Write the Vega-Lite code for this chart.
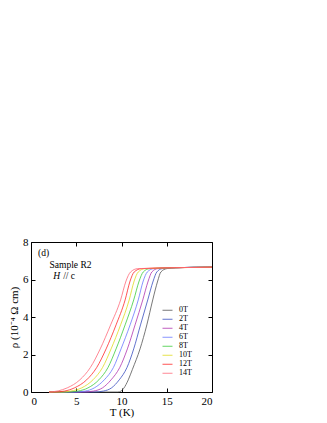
{
  "$schema": "https://vega.github.io/schema/vega-lite/v6.json",
  "autosize": {"type": "none"},
  "width": 181,
  "height": 150,
  "padding": {"left": 31, "top": 242, "right": 115, "bottom": 31},
  "background": "white",
  "config": {
    "view": {"stroke": "black", "strokeWidth": 1},
    "font": "Liberation Serif",
    "axis": {
      "domain": false, "grid": false, "tickColor": "black", "tickSize": -4, "tickWidth": 1,
      "labelFont": "Liberation Serif", "labelFontSize": 11, "labelColor": "black",
      "titleFont": "Liberation Serif", "titleFontSize": 11, "titleFontWeight": "normal", "titleColor": "black"
    },
    "legend": {
      "orient": "none", "legendX": 131, "legendY": 64,
      "symbolType": "stroke", "symbolSize": 100, "symbolStrokeWidth": 0.8,
      "labelFont": "Liberation Serif", "labelFontSize": 8, "labelColor": "black",
      "rowPadding": 0, "clipHeight": 8.5, "labelOffset": 6
    }
  },
  "resolve": {"axis": {"x": "independent", "y": "independent"}},
  "layer": [
    {
      "data": {"values": [
        {"H":"0T","T":2,"r":0},{"H":"0T","T":9.6,"r":0},{"H":"0T","T":9.95,"r":0.05},{"H":"0T","T":10.25,"r":0.2},{"H":"0T","T":10.75,"r":0.65},{"H":"0T","T":11.2,"r":1.2},{"H":"0T","T":12.05,"r":2.3},{"H":"0T","T":12.8,"r":3.58},{"H":"0T","T":13.45,"r":4.91},{"H":"0T","T":14.0,"r":5.92},{"H":"0T","T":14.35,"r":6.4},{"H":"0T","T":15.0,"r":6.58},{"H":"0T","T":16,"r":6.63},{"H":"0T","T":20,"r":6.66},
        {"H":"2T","T":2,"r":0},{"H":"2T","T":7.0,"r":0},{"H":"2T","T":8.0,"r":0.05},{"H":"2T","T":8.9,"r":0.22},{"H":"2T","T":9.75,"r":0.65},{"H":"2T","T":10.6,"r":1.3},{"H":"2T","T":11.35,"r":2.3},{"H":"2T","T":12.1,"r":3.58},{"H":"2T","T":12.9,"r":4.91},{"H":"2T","T":13.5,"r":5.92},{"H":"2T","T":13.9,"r":6.4},{"H":"2T","T":14.5,"r":6.58},{"H":"2T","T":16,"r":6.63},{"H":"2T","T":20,"r":6.66},
        {"H":"4T","T":2,"r":0},{"H":"4T","T":5.8,"r":0},{"H":"4T","T":6.9,"r":0.05},{"H":"4T","T":7.9,"r":0.22},{"H":"4T","T":8.85,"r":0.65},{"H":"4T","T":9.8,"r":1.3},{"H":"4T","T":10.65,"r":2.3},{"H":"4T","T":11.5,"r":3.58},{"H":"4T","T":12.35,"r":4.91},{"H":"4T","T":12.95,"r":5.92},{"H":"4T","T":13.35,"r":6.4},{"H":"4T","T":14.0,"r":6.58},{"H":"4T","T":16,"r":6.63},{"H":"4T","T":20,"r":6.66},
        {"H":"6T","T":2,"r":0},{"H":"6T","T":4.9,"r":0},{"H":"6T","T":6.0,"r":0.05},{"H":"6T","T":7.0,"r":0.22},{"H":"6T","T":8.1,"r":0.65},{"H":"6T","T":9.1,"r":1.3},{"H":"6T","T":9.95,"r":2.3},{"H":"6T","T":10.95,"r":3.58},{"H":"6T","T":11.85,"r":4.91},{"H":"6T","T":12.4,"r":5.92},{"H":"6T","T":12.85,"r":6.4},{"H":"6T","T":13.55,"r":6.58},{"H":"6T","T":16,"r":6.63},{"H":"6T","T":20,"r":6.66},
        {"H":"8T","T":2,"r":0},{"H":"8T","T":4.1,"r":0},{"H":"8T","T":5.2,"r":0.05},{"H":"8T","T":6.3,"r":0.22},{"H":"8T","T":7.5,"r":0.65},{"H":"8T","T":8.5,"r":1.3},{"H":"8T","T":9.4,"r":2.3},{"H":"8T","T":10.4,"r":3.58},{"H":"8T","T":11.35,"r":4.91},{"H":"8T","T":11.95,"r":5.92},{"H":"8T","T":12.4,"r":6.4},{"H":"8T","T":13.1,"r":6.58},{"H":"8T","T":16,"r":6.63},{"H":"8T","T":20,"r":6.66},
        {"H":"10T","T":2,"r":0},{"H":"10T","T":3.3,"r":0},{"H":"10T","T":4.4,"r":0.05},{"H":"10T","T":5.6,"r":0.22},{"H":"10T","T":6.85,"r":0.65},{"H":"10T","T":7.9,"r":1.3},{"H":"10T","T":8.85,"r":2.3},{"H":"10T","T":9.9,"r":3.58},{"H":"10T","T":10.85,"r":4.91},{"H":"10T","T":11.4,"r":5.92},{"H":"10T","T":11.85,"r":6.4},{"H":"10T","T":12.6,"r":6.58},{"H":"10T","T":16,"r":6.63},{"H":"10T","T":20,"r":6.66},
        {"H":"12T","T":2,"r":0},{"H":"12T","T":2.6,"r":0},{"H":"12T","T":3.7,"r":0.05},{"H":"12T","T":4.8,"r":0.22},{"H":"12T","T":6.15,"r":0.65},{"H":"12T","T":7.25,"r":1.3},{"H":"12T","T":8.3,"r":2.3},{"H":"12T","T":9.4,"r":3.58},{"H":"12T","T":10.4,"r":4.91},{"H":"12T","T":10.95,"r":5.92},{"H":"12T","T":11.4,"r":6.4},{"H":"12T","T":12.2,"r":6.58},{"H":"12T","T":16,"r":6.63},{"H":"12T","T":20,"r":6.66},
        {"H":"14T","T":2,"r":0},{"H":"14T","T":3.0,"r":0.06},{"H":"14T","T":4.0,"r":0.22},{"H":"14T","T":5.4,"r":0.65},{"H":"14T","T":6.55,"r":1.3},{"H":"14T","T":7.65,"r":2.3},{"H":"14T","T":8.8,"r":3.58},{"H":"14T","T":9.9,"r":4.91},{"H":"14T","T":10.5,"r":5.92},{"H":"14T","T":11.0,"r":6.4},{"H":"14T","T":11.8,"r":6.58},{"H":"14T","T":16,"r":6.63},{"H":"14T","T":20,"r":6.66}
      ]},
      "mark": {"type": "line", "strokeWidth": 0.8, "interpolate": "monotone"},
      "encoding": {
        "x": {"field": "T", "type": "quantitative", "scale": {"domain": [0, 20], "nice": false},
              "axis": {"orient": "bottom", "values": [0, 5, 10, 15, 20], "title": "T (K)", "labelPadding": 7, "titlePadding": 0}},
        "y": {"field": "r", "type": "quantitative", "scale": {"domain": [0, 8], "nice": false},
              "axis": {"orient": "left", "values": [0, 2, 4, 6, 8], "title": "ρ (10⁻⁴ Ω cm)", "labelPadding": 7, "titlePadding": 3}},
        "color": {"field": "H", "type": "nominal",
                  "scale": {"domain": ["0T","2T","4T","6T","8T","10T","12T","14T"],
                            "range": ["#555555","#3a4fc0","#b035b0","#6a78ff","#3ccc3c","#e0dc20","#ff2a2a","#ff6a7a"]},
                  "legend": {"title": null}}
      }
    },
    {
      "data": {"values": [
        {"T": 0.77, "r": 7.43, "txt": "(d)"},
        {"T": 2.05, "r": 6.77, "txt": "Sample R2"},
        {"T": 3.55, "r": 6.2, "txt": "// c"}
      ]},
      "mark": {"type": "text", "align": "left", "baseline": "middle", "font": "Liberation Serif", "fontSize": 9.5, "color": "black"},
      "encoding": {
        "x": {"field": "T", "type": "quantitative", "axis": {"orient": "top", "values": [0,5,10,15,20], "labels": false, "title": null}},
        "y": {"field": "r", "type": "quantitative", "axis": {"orient": "right", "values": [0,2,4,6,8], "labels": false, "title": null}},
        "text": {"field": "txt"}
      }
    },
    {
      "data": {"values": [{"T": 2.46, "r": 6.2, "txt": "H"}]},
      "mark": {"type": "text", "align": "left", "baseline": "middle", "font": "Liberation Serif", "fontSize": 9.5, "fontStyle": "italic", "color": "black"},
      "encoding": {
        "x": {"field": "T", "type": "quantitative", "axis": null},
        "y": {"field": "r", "type": "quantitative", "axis": null},
        "text": {"field": "txt"}
      }
    }
  ]
}
